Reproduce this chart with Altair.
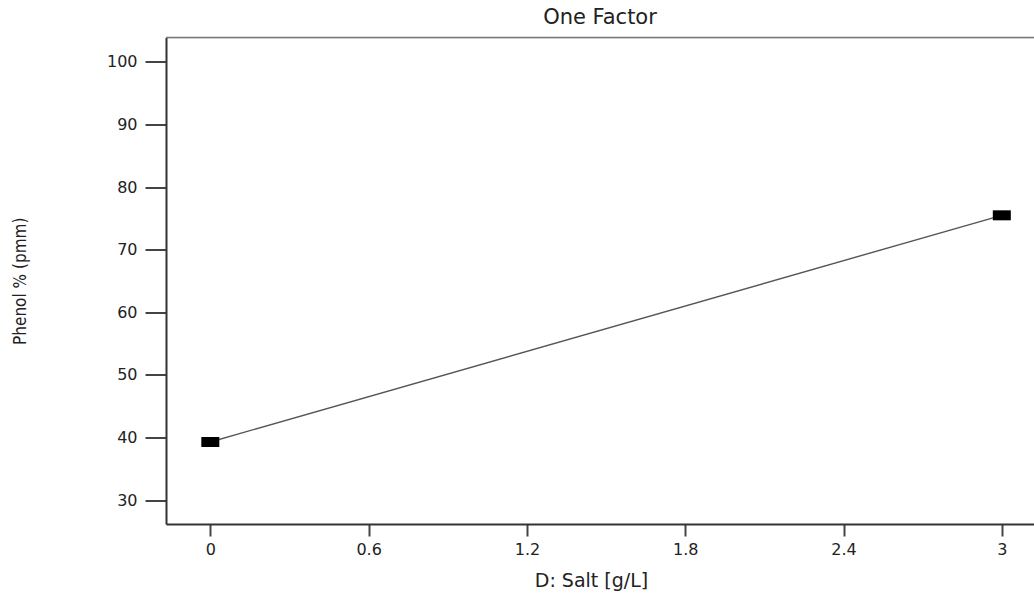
import altair as alt
import pandas as pd

# Data
salt = [0.0, 3.0]
phenol = [39.3, 75.5]

x_ticks = [0, 0.6, 1.2, 1.8, 2.4, 3]
y_ticks = [30, 40, 50, 60, 70, 80, 90, 100]

df = pd.DataFrame({"salt": salt, "phenol": phenol})

W = 868
H = 486.5

x_scale = alt.Scale(domain=[-0.168, 3.122], nice=False, zero=False)
y_scale = alt.Scale(domain=[26.2, 103.9], nice=False, zero=False)

x_axis = alt.Axis(
    values=x_ticks, format="~g", title="D: Salt [g/L]",
    grid=False, domainColor="#333", domainWidth=2,
    tickColor="#444", tickWidth=2, tickSize=12,
    labelFont="DejaVu Sans", labelFontSize=16, labelColor="#222", labelPadding=5,
    titleFont="DejaVu Sans", titleFontSize=19, titleFontWeight="normal", titleColor="#222",
    titleX=425, titleY=56, titleAnchor="middle", titleBaseline="middle", titleAlign="center",
)
y_axis = alt.Axis(
    values=y_ticks, title="Phenol % (pmm)",
    grid=False, domainColor="#333", domainWidth=2,
    tickColor="#444", tickWidth=2, tickSize=21,
    labelFont="DejaVu Sans", labelFontSize=16, labelColor="#222", labelPadding=8,
    titleFont="Liberation Sans Narrow, DejaVu Sans Condensed", titleFontSize=17,
    titleFontWeight="normal", titleColor="#222",
    titleAngle=-90, titleX=-146, titleY=H / 2, titleAlign="center", titleBaseline="middle",
)

base = alt.Chart(df)

line = base.mark_line(color="#555", strokeWidth=1.4).encode(
    x=alt.X("salt:Q", scale=x_scale, axis=x_axis),
    y=alt.Y("phenol:Q", scale=y_scale, axis=y_axis),
)

pts = base.mark_point(
    shape="M-1,-0.5556 L1,-0.5556 L1,0.5556 L-1,0.5556 Z",
    filled=True, color="black", opacity=1, size=324,
).encode(
    x=alt.X("salt:Q", scale=x_scale),
    y=alt.Y("phenol:Q", scale=y_scale),
)

top = alt.Chart(alt.Data(values=[{}])).mark_rule(color="#777", strokeWidth=1.5).encode(
    x=alt.value(0), x2=alt.value(W), y=alt.value(0)
)

chart = alt.layer(line, pts, top).properties(
    width=W, height=H,
    title=alt.TitleParams("One Factor", font="DejaVu Sans", fontSize=21, fontWeight="normal",
                          color="#222", anchor="middle", offset=9),
    autosize=alt.AutoSizeParams(type="none"),
    padding={"left": 166, "top": 37.5, "right": 0, "bottom": 77},
).configure_view(stroke=None).configure(background="white")

chart.save("out.html", embed_options={"renderer": "svg", "actions": False})
